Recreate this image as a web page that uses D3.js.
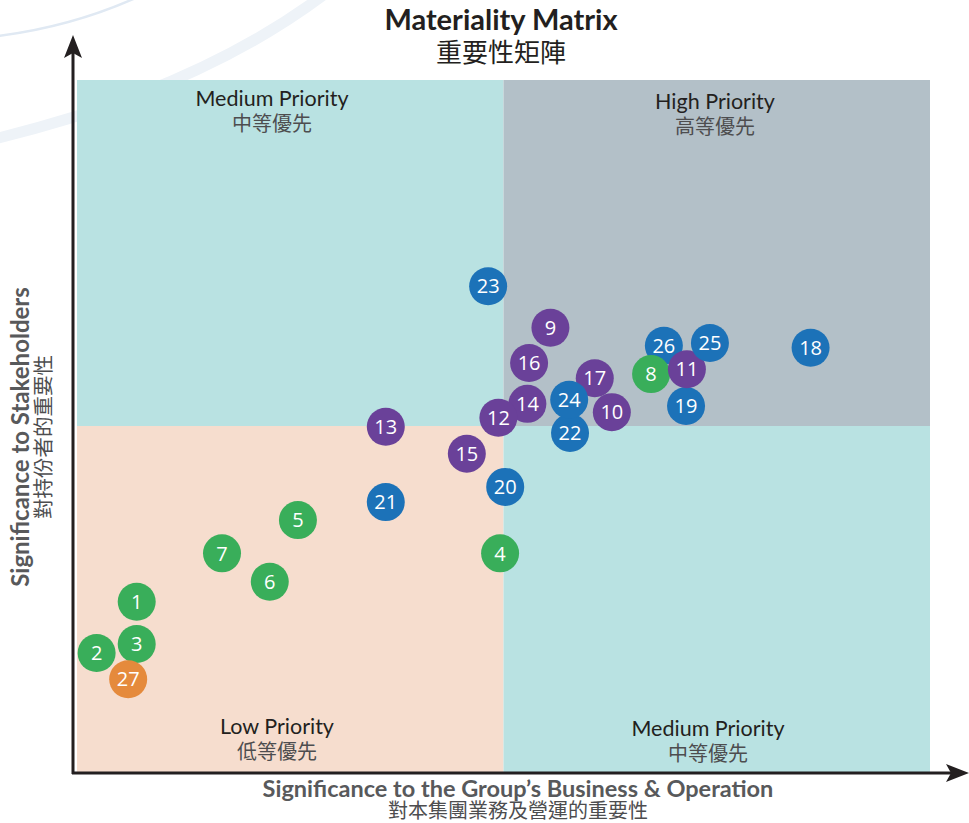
<!DOCTYPE html>
<html><head><meta charset="utf-8">
<script src="https://cdn.jsdelivr.net/npm/d3@7"></script>
<style>
html,body{margin:0;padding:0;background:#fff;}
svg{display:block;}
</style></head>
<body>
<svg id="chart" width="969" height="823"></svg>
<script>
// ---- data ----
const titleEn = "Materiality Matrix";
const titleZh = "重要性矩陣";
const xLabelEn = "Significance to the Group’s Business & Operation";
const xLabelZh = "對本集團業務及營運的重要性";
const yLabelEn = "Significance to Stakeholders";
const yLabelZh = "對持份者的重要性";
const quadrantEn = ["Medium Priority", "High Priority", "Low Priority", "Medium Priority"];
const quadrantZh = ["中等優先", "高等優先", "低等優先", "中等優先"];
// issues (in drawing order)
const issueIds    = [1, 2, 3, 4, 5, 6, 7, 9, 10, 13, 14, 12, 15, 16, 17, 18, 19, 20, 21, 22, 23, 24, 26, 8, 11, 25, 27];
const issueX      = [0.70, 0.23, 0.70, 4.96, 2.59, 2.26, 1.70, 5.55, 6.27, 3.62, 5.28, 4.94, 4.57, 5.30, 6.07, 8.60, 7.14, 5.02, 3.62, 5.78, 4.82, 5.77, 6.88, 6.73, 7.15, 7.42, 0.60];
const issueY      = [2.46, 1.72, 1.85, 3.16, 3.64, 2.75, 3.16, 6.42, 5.20, 4.99, 5.32, 5.12, 4.60, 5.91, 5.69, 6.13, 5.29, 4.12, 3.90, 4.90, 7.02, 5.38, 6.16, 5.75, 5.82, 6.20, 1.34];
const issueGroup  = ["env","env","env","env","env","env","env","soc","soc","soc","soc","soc","soc","soc","soc","gov","gov","gov","gov","gov","gov","gov","gov","env","soc","gov","oth"];
const groups = ["env", "soc", "gov", "oth"];
const groupColors = ["#39ae5a", "#6a4199", "#1c72b8", "#e58a3c"];
const xDomain = [0, 10];
const yDomain = [0, 10];
const splitValue = 5;

// ---- layout ----
const svg = d3.select("#chart");
const plot = {left: 77, right: 930, top: 80, bottom: 772};
const x = d3.scaleLinear().domain(xDomain).range([plot.left, plot.right]);
const y = d3.scaleLinear().domain(yDomain).range([plot.bottom, plot.top]);
const color = d3.scaleOrdinal().domain(groups).range(groupColors);
const latin = "Lato, 'Open Sans', sans-serif";
const cjk = "'Noto Sans CJK TC', 'Noto Sans CJK SC', sans-serif";

// decorative background arcs
svg.append("path").attr("d", "M -10,37 Q 70,28 140,-4")
  .attr("fill", "none").attr("stroke", "#e0e9f3").attr("stroke-width", 2.5);
svg.append("path").attr("d", "M -10,140 Q 200,90 330,-10")
  .attr("fill", "none").attr("stroke", "#eef3f8").attr("stroke-width", 11);

// quadrants
const quads = [
  {x0: xDomain[0], x1: splitValue, y0: splitValue, y1: yDomain[1], fill: "#b9e2e2"},
  {x0: splitValue, x1: xDomain[1], y0: splitValue, y1: yDomain[1], fill: "#b3c0c8"},
  {x0: xDomain[0], x1: splitValue, y0: yDomain[0], y1: splitValue, fill: "#f6ddce"},
  {x0: splitValue, x1: xDomain[1], y0: yDomain[0], y1: splitValue, fill: "#b9e2e2"}
];
svg.append("g").selectAll("rect").data(quads).join("rect")
  .attr("x", d => x(d.x0)).attr("y", d => y(d.y1))
  .attr("width", d => x(d.x1) - x(d.x0)).attr("height", d => y(d.y0) - y(d.y1))
  .attr("fill", d => d.fill);

// quadrant labels
const qLabelPos = [
  {cx: 272, en: 106, zh: 131},
  {cx: 715, en: 109, zh: 134},
  {cx: 277, en: 734, zh: 759},
  {cx: 708, en: 736, zh: 761}
];
const ql = svg.append("g");
quadrantEn.forEach((t, i) => {
  ql.append("text").attr("x", qLabelPos[i].cx).attr("y", qLabelPos[i].en)
    .attr("text-anchor", "middle").attr("font-family", latin).attr("font-size", 21.5)
    .attr("fill", "#231f20").text(t);
  ql.append("text").attr("x", qLabelPos[i].cx).attr("y", qLabelPos[i].zh)
    .attr("text-anchor", "middle").attr("font-family", cjk).attr("font-size", 20)
    .attr("fill", "#4d4d4f").text(quadrantZh[i]);
});

// axes with arrows
const axisColor = "#231f20";
svg.append("line").attr("x1", 73).attr("y1", 774).attr("x2", 73).attr("y2", 52)
  .attr("stroke", axisColor).attr("stroke-width", 3);
svg.append("line").attr("x1", 72).attr("y1", 773).attr("x2", 952).attr("y2", 773)
  .attr("stroke", axisColor).attr("stroke-width", 3);
svg.append("path").attr("d", "M 73,35 L 82,58 L 73,53 L 64,58 Z").attr("fill", axisColor);
svg.append("path").attr("d", "M 969,773 L 946,782 L 951,773 L 946,764 Z").attr("fill", axisColor);

// titles
svg.append("text").attr("x", 501).attr("y", 30).attr("text-anchor", "middle")
  .attr("font-family", latin).attr("font-weight", "bold").attr("font-size", 29)
  .attr("fill", "#231f20").text(titleEn);
svg.append("text").attr("x", 501).attr("y", 62).attr("text-anchor", "middle")
  .attr("font-family", cjk).attr("font-size", 26).attr("fill", "#231f20").text(titleZh);

// axis labels
svg.append("text").attr("x", 518).attr("y", 797).attr("text-anchor", "middle")
  .attr("font-family", latin).attr("font-weight", "bold").attr("font-size", 23.5)
  .attr("fill", "#58595b").text(xLabelEn);
svg.append("text").attr("x", 518).attr("y", 818).attr("text-anchor", "middle")
  .attr("font-family", cjk).attr("font-size", 20).attr("fill", "#4d4d4f").text(xLabelZh);
svg.append("text").attr("transform", "translate(29,437) rotate(-90)").attr("text-anchor", "middle")
  .attr("font-family", latin).attr("font-weight", "bold").attr("font-size", 24)
  .attr("fill", "#58595b").text(yLabelEn);
svg.append("text").attr("transform", "translate(51,437) rotate(-90)").attr("text-anchor", "middle")
  .attr("font-family", cjk).attr("font-size", 20.5).attr("fill", "#4d4d4f").text(yLabelZh);

// bubbles
const issues = issueIds.map((id, i) => ({id, x: issueX[i], y: issueY[i], g: issueGroup[i]}));
const bub = svg.append("g").selectAll("g").data(issues).join("g")
  .attr("transform", d => `translate(${x(d.x)},${y(d.y)})`);
bub.append("circle").attr("r", 19).attr("fill", d => color(d.g));
bub.append("text").attr("text-anchor", "middle").attr("dy", "0.36em")
  .attr("font-family", "'Open Sans', sans-serif").attr("font-size", 20)
  .attr("fill", "#fff").text(d => d.id);
</script>
</body></html>
